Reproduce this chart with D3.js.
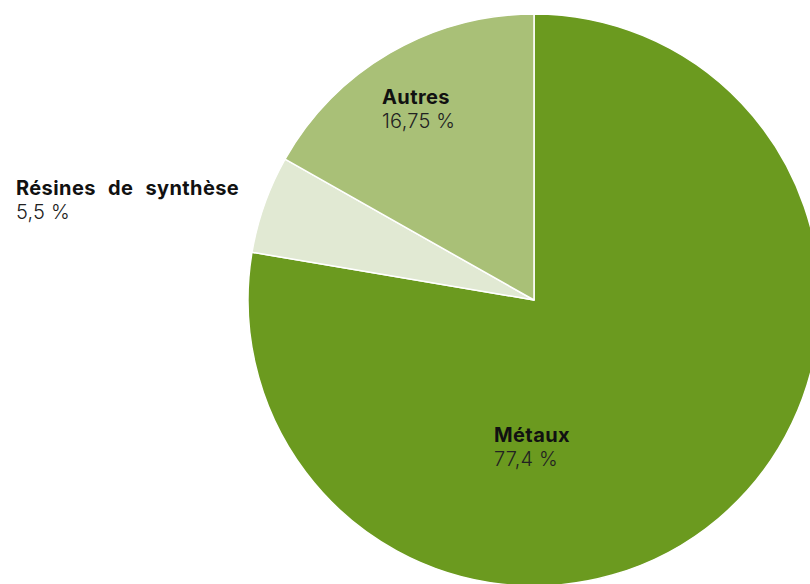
<!DOCTYPE html>
<html><head><meta charset="utf-8">
<script src="https://cdn.jsdelivr.net/npm/d3@7"></script>
<style>
html,body{margin:0;padding:0;background:#fff;overflow:hidden}
text{font-family:Inter,"Noto Sans",sans-serif}
</style></head>
<body><svg id="c" width="810" height="584"></svg>
<script>
const categories = ["Métaux", "Résines de synthèse", "Autres"];
const values = [77.4, 5.5, 16.75];
const valueLabels = ["77,4 %", "5,5 %", "16,75 %"];
const colors = ["#6b9a1f", "#e1e9d3", "#a9c077"];

const svg = d3.select("#c");
const cx = 534, cy = 300, r = 286;
const data = categories.map((c, i) => ({name: c, value: values[i], label: valueLabels[i], color: colors[i]}));
const pie = d3.pie().sort(null).value(d => d.value);
const arc = d3.arc().innerRadius(0).outerRadius(r);
const g = svg.append("g").attr("transform", `translate(${cx},${cy})`);
g.selectAll("path").data(pie(data)).join("path")
  .attr("d", arc).attr("fill", d => d.data.color)
  .attr("stroke", "#fff").attr("stroke-width", 1.5).attr("stroke-linejoin", "round");

const labelPos = [[494, 442], [16, 195], [382, 104]];
const wordSp = [0, 7, 0];
data.forEach((d, i) => {
  const t = svg.append("text").attr("x", labelPos[i][0]).attr("y", labelPos[i][1]);
  t.append("tspan").attr("x", labelPos[i][0]).attr("font-weight", 700).attr("font-size", 20)
    .attr("letter-spacing", 0.4)
    .attr("fill", "#111").style("word-spacing", wordSp[i] + "px").text(d.name);
  t.append("tspan").attr("x", labelPos[i][0]).attr("dy", 24).attr("font-weight", 300)
    .attr("font-size", 20).attr("letter-spacing", 0.2).attr("fill", "#222").text(d.label);
});
</script></body></html>
